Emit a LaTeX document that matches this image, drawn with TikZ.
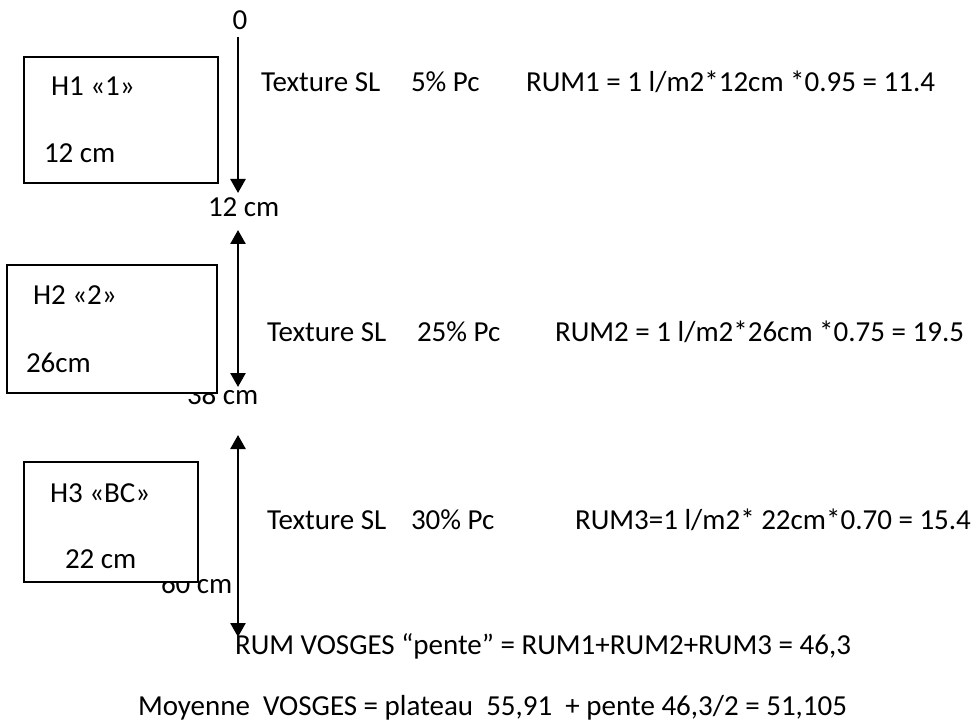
\documentclass[tikz,border=0pt]{standalone}
\usepackage{fontspec}
\setmainfont{Carlito}
\usetikzlibrary{arrows.meta}
\tikzset{
  txt/.style={anchor=base west, inner sep=0pt, outer sep=0pt, font=\fontsize{29}{34}\selectfont},
  layerbox/.style={draw=black, line width=1.6pt, fill=white},
  depth/.style={line width=2.6pt, black},
  tip/.tip={Triangle[width=15pt,length=14pt]}
}
\begin{document}
\begin{tikzpicture}[x=1pt,y=-1pt]
\useasboundingbox (0,0) rectangle (979,727);

% depth labels
\node[txt, anchor=base] (d0) at (240,30) {0};
\node[txt] (d12) at (208,217) {12 cm};
\node[txt] (d38) at (187,404) {38 cm};
\node[txt] (d60) at (161,593) {60 cm};

% arrow end points
\coordinate (a1s) at (238,37);
\coordinate (a1e) at (238,193);
\coordinate (a2s) at (238,230);
\coordinate (a2e) at (238,387);
\coordinate (a3s) at (238,435);
\coordinate (a3e) at (238,637);

% layer boxes (drawn over the depth labels)
\draw[layerbox] (24,57) rectangle (218,183);
\draw[layerbox] (7,265) rectangle (217,393);
\draw[layerbox] (24,462) rectangle (198,582);

\node[txt] (h1) at (51,96) {H1 «1»};
\node[txt] (h1c) at (44,163) {12 cm};
\node[txt] (h2) at (33,304) {H2 «2»};
\node[txt] (h2c) at (26,372) {26cm};
\node[txt] (h3) at (50,502) {H3 «BC»};
\node[txt] (h3c) at (65,568) {22 cm};

% arrows
\draw[depth, -tip] (a1s) -- (a1e);
\draw[depth, tip-tip] (a2s) -- (a2e);
\draw[depth, tip-tip] (a3s) -- (a3e);

% row texts
\node[txt] (t1) at (261,92) {Texture SL};
\node[txt] (p1) at (411,92) {5\% Pc};
\node[txt] (r1) at (526,92) {RUM1 = 1 l/m2*12cm *0.95 = 11.4};

\node[txt] (t2) at (267,341) {Texture SL};
\node[txt] (p2) at (417,341) {25\% Pc};
\node[txt] (r2) at (555,341) {RUM2 = 1 l/m2*26cm *0.75 = 19.5};

\node[txt] (t3) at (267,529) {Texture SL};
\node[txt] (p3) at (411,529) {30\% Pc};
\node[txt] (r3) at (575,529) {RUM3=1 l/m2* 22cm*0.70 = 15.4};

\node[txt] (sum) at (235,654) {RUM VOSGES “pente” = RUM1+RUM2+RUM3 = 46,3};
\node[txt] (moy) at (138,715) {Moyenne~ VOSGES = plateau~ 55,91~ + pente 46,3/2 = 51,105};
\end{tikzpicture}
\end{document}
